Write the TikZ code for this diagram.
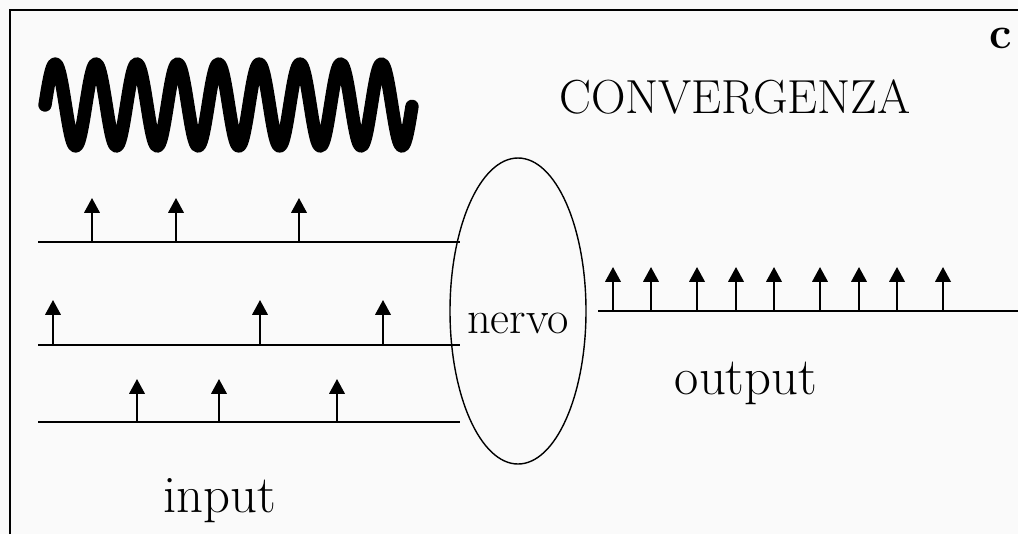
\documentclass[tikz,border=0pt]{standalone}
\usetikzlibrary{arrows.meta}

\begin{document}
\begin{tikzpicture}[x=0.025cm,y=-0.025cm,
spike/.style={-{Triangle[width=11pt,length=10.5pt]},line width=1.4pt},
fibra/.style={line width=1.4pt},
lbl/.style={inner sep=0pt,anchor=base}]
\useasboundingbox (0,0) rectangle (1018,534);
\fill[black!2] (0,0) rectangle (1018,534);
\draw[line width=2pt] (10,534)--(10,10)--(1018,10);
% onda
\draw[line width=9.5pt,line cap=round,line join=round]
  plot[domain=0:9,samples=360] ({45+40.8*\x},{105-41*sin(360*\x)});
\node[lbl,font=\fontsize{34}{40}\selectfont] (titolo) at (735,113) {CONVERGENZA};
\node[lbl,font=\fontsize{32}{38}\selectfont\bfseries] (lettera) at (1001,48) {c};
% nervo
\node[lbl,font=\fontsize{33}{40}\selectfont] (nervo) at (518,333) {nervo};
\draw[line width=1pt] (518,311) ellipse [x radius=68,y radius=153];
% input
\foreach \y/\a/\b/\c/\t in {242/92/176/299/198,345/53/260/383/300,422/137/219/337/379}{
  \draw[fibra] (38,\y)--(460,\y);
  \foreach \x in {\a,\b,\c} \draw[spike] (\x,\y)--(\x,\t);
}
\node[lbl,font=\fontsize{37.5}{44}\selectfont] (input) at (220,512) {input};
% output
\draw[fibra] (598,311)--(1018,311);
\foreach \x in {613,651,697,736,774,820,859,897,943} \draw[spike] (\x,311)--(\x,267);
\node[lbl,font=\fontsize{37.5}{44}\selectfont] (output) at (746,394) {output};
\end{tikzpicture}
\end{document}
